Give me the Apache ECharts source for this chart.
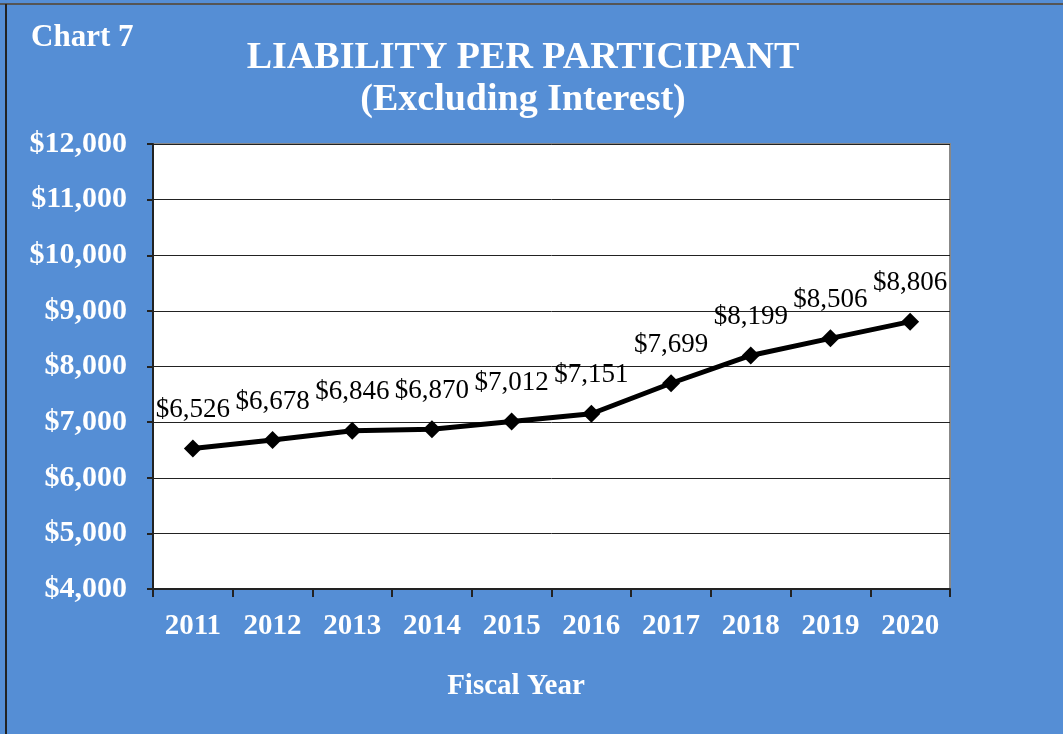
<!DOCTYPE html>
<html>
<head>
<meta charset="utf-8">
<script src="https://cdn.jsdelivr.net/npm/echarts@6/dist/echarts.min.js"></script>
<style>
  html, body { margin: 0; padding: 0; background: #fff; }
  #chart { width: 1063px; height: 734px; }
</style>
</head>
<body>
<div id="chart"></div>
<script>
// 数据
var years = ['2011', '2012', '2013', '2014', '2015', '2016', '2017', '2018', '2019', '2020']
var liability = [6526, 6678, 6846, 6870, 7012, 7151, 7699, 8199, 8506, 8806]
var yMin = 4000
var yMax = 12000
var yStep = 1000

var serif = "'Liberation Serif', 'Times New Roman', serif"

function money(v) {
  return '$' + Number(v).toLocaleString('en-US')
}

var chart = echarts.init(document.getElementById('chart'))
chart.setOption({
  backgroundColor: '#558ED5',
  animation: false,
  title: [
    {
      text: 'Chart 7',
      left: 26, top: 17,
      textStyle: { color: '#fff', fontFamily: serif, fontWeight: 'bold', fontSize: 31 }
    },
    {
      text: 'LIABILITY PER PARTICIPANT\n(Excluding Interest)',
      left: 518, top: 32, textAlign: 'center',
      textStyle: { color: '#fff', fontFamily: serif, fontWeight: 'bold', fontSize: 38, lineHeight: 42 }
    },
    {
      text: 'Fiscal Year',
      left: 511, top: 667, textAlign: 'center',
      textStyle: { color: '#fff', fontFamily: serif, fontWeight: 'bold', fontSize: 29 }
    }
  ],
  graphic: [
    { type: 'line', shape: { x1: 0, y1: 4, x2: 1063, y2: 4 }, style: { stroke: '#555', lineWidth: 2 } },
    { type: 'line', shape: { x1: 6, y1: 4, x2: 6, y2: 734 }, style: { stroke: '#222', lineWidth: 2 } }
  ],
  grid: {
    left: 153, right: 113, top: 144, bottom: 145,
    show: true, backgroundColor: '#fff', borderColor: '#888', borderWidth: 2
  },
  xAxis: {
    type: 'category',
    data: years,
    boundaryGap: true,
    axisLine: { lineStyle: { color: '#222', width: 2 } },
    axisTick: { show: true, length: 8, lineStyle: { color: '#222', width: 2 } },
    axisLabel: { color: '#fff', fontFamily: serif, fontWeight: 'bold', fontSize: 29, margin: 23 }
  },
  yAxis: {
    type: 'value',
    min: yMin, max: yMax, interval: yStep,
    axisLine: { show: true, lineStyle: { color: '#222', width: 2 } },
    axisTick: { show: true, length: 6, lineStyle: { color: '#222', width: 2 } },
    splitLine: { lineStyle: { color: '#222', width: 1 } },
    axisLabel: {
      color: '#fff', fontFamily: serif, fontWeight: 'bold', fontSize: 30, margin: 26,
      formatter: money
    }
  },
  series: [{
    type: 'line',
    data: liability,
    symbol: 'diamond',
    symbolSize: 18,
    lineStyle: { color: '#000', width: 5 },
    itemStyle: { color: '#000' },
    label: {
      show: true, position: 'top', distance: 16,
      color: '#000', fontFamily: serif, fontSize: 27,
      formatter: function (p) { return money(p.value) }
    }
  }]
})
</script>
</body>
</html>
